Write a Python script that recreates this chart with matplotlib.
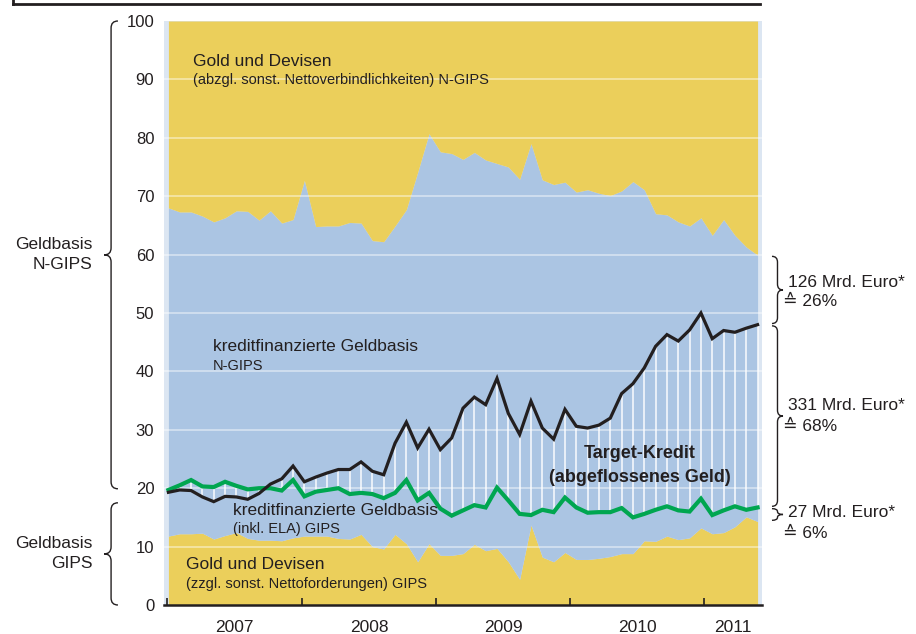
import numpy as np
import matplotlib
matplotlib.use('Agg')
import matplotlib.pyplot as plt
from matplotlib.path import Path
from matplotlib.patches import PathPatch
from matplotlib.lines import Line2D
from matplotlib.transforms import blended_transform_factory

plt.rcParams['font.family'] = ['Liberation Sans', 'DejaVu Sans']

# monthly values, Jan 2007 - May 2011 (share of monetary base, %)
top_ngips = [68.0, 67.3, 67.3, 66.6, 65.6, 66.3, 67.5, 67.4, 65.9, 67.5,
             65.4, 66.0, 72.7, 64.8, 64.9, 64.9, 65.5, 65.4, 62.4, 62.2,
             64.9, 67.7, 74.1, 80.7, 77.6, 77.3, 76.3, 77.5, 76.2, 75.6,
             75.0, 72.9, 79.0, 72.8, 72.0, 72.4, 70.7, 71.1, 70.5, 70.1,
             70.9, 72.5, 71.1, 67.0, 66.8, 65.6, 64.9, 66.3, 63.3, 66.0,
             63.3, 61.3, 59.9]
kredit_ngips = [19.3, 19.7, 19.6, 18.5, 17.7, 18.6, 18.5, 18.1, 19.1, 20.7,
                21.6, 23.8, 21.1, 21.9, 22.6, 23.2, 23.2, 24.5, 22.9, 22.3,
                27.7, 31.3, 26.9, 30.1, 26.6, 28.6, 33.7, 35.6, 34.3, 38.8,
                32.8, 29.2, 34.9, 30.3, 28.4, 33.5, 30.6, 30.3, 30.8, 32.0,
                36.2, 37.9, 40.6, 44.3, 46.3, 45.2, 47.1, 50.0, 45.6, 47.0,
                46.7, 47.4, 48.0]
kredit_gips = [19.7, 20.5, 21.4, 20.3, 20.2, 21.1, 20.4, 19.8, 20.0, 20.0,
               19.6, 21.4, 18.6, 19.4, 19.7, 20.0, 19.0, 19.2, 19.0, 18.3,
               19.2, 21.4, 17.9, 19.2, 16.5, 15.3, 16.2, 17.1, 16.7, 20.1,
               17.9, 15.6, 15.4, 16.3, 15.9, 18.4, 16.7, 15.8, 15.9, 15.9,
               16.6, 15.0, 15.6, 16.3, 16.9, 16.2, 16.0, 18.2, 15.4, 16.2,
               16.9, 16.3, 16.7]
gold_gips = [11.8, 12.2, 12.2, 12.3, 11.3, 11.9, 12.4, 11.4, 11.1, 11.1,
             11.0, 11.5, 11.8, 11.8, 11.8, 11.4, 11.3, 12.1, 10.0, 9.6,
             12.1, 10.5, 7.4, 10.5, 8.5, 8.5, 8.8, 10.4, 9.3, 9.7,
             7.4, 4.4, 13.7, 8.2, 7.4, 9.0, 7.8, 7.8, 8.0, 8.3,
             8.8, 8.8, 11.0, 10.9, 11.8, 11.2, 11.5, 13.2, 12.2, 12.4,
             13.4, 15.1, 14.3]
years = ['2007', '2008', '2009', '2010', '2011']
year_starts = [-0.1, 11.8, 23.6, 35.45, 47.3]
right_labels = [('126 Mrd. Euro*', '\u2259 26%'),
                ('331 Mrd. Euro*', '\u2259 68%'),
                ('27 Mrd. Euro*', '\u2259 6%')]

YELLOW = '#EBCF5B'
BLUE = '#ABC5E3'
DARK = '#231F20'
GREEN = '#00A650'

x = np.arange(len(top_ngips))
top = np.array(top_ngips)
blk = np.array(kredit_ngips)
grn = np.array(kredit_gips)
gold = np.array(gold_gips)


def brace(ax, x_end, x_tip, y0, y1, d=1.2, lw=1.0):
    # curly brace, x in axes fraction, y in data units
    trans = blended_transform_factory(ax.transAxes, ax.transData)
    s = np.sign(y1 - y0)
    d = min(d, abs(y1 - y0) / 4)
    xm = (x_end + x_tip) / 2
    ym = (y0 + y1) / 2
    verts = [(x_end, y0), (xm, y0), (xm, y0 + s * d),
             (xm, ym - s * d),
             (xm, ym), (x_tip, ym),
             (xm, ym), (xm, ym + s * d),
             (xm, y1 - s * d),
             (xm, y1), (x_end, y1)]
    codes = [Path.MOVETO, Path.CURVE3, Path.CURVE3, Path.LINETO,
             Path.CURVE3, Path.CURVE3, Path.CURVE3, Path.CURVE3,
             Path.LINETO, Path.CURVE3, Path.CURVE3]
    p = PathPatch(Path(verts, codes), fill=False, lw=lw, color=DARK,
                  transform=trans, clip_on=False)
    ax.add_patch(p)


fig = plt.figure(figsize=(9.16, 6.34), dpi=100)
ax = fig.add_axes([164 / 916, 29 / 634, 598 / 916, 584 / 634])
ax.set_facecolor('#DCE6F2')

ax.fill_between(x, 0, gold, color=YELLOW, lw=0, zorder=1)
ax.fill_between(x, gold, top, color=BLUE, lw=0, zorder=1)
ax.fill_between(x, top, 100, color=YELLOW, lw=0, zorder=1)

for yv in range(10, 100, 10):
    ax.axhline(yv, color='white', lw=1.2, alpha=0.5, zorder=2)

ax.vlines(x, np.minimum(grn, blk), np.maximum(grn, blk), colors='white',
          lw=1.3, alpha=0.8, zorder=2.5)
ax.plot(x, blk, color=DARK, lw=2.3, zorder=4, solid_joinstyle='miter')
ax.plot(x, grn, color=GREEN, lw=3.0, zorder=3, solid_joinstyle='miter')

ax.set_xlim(-0.39, 52.39)
ax.set_ylim(0, 100)
for side in ['left', 'right', 'top']:
    ax.spines[side].set_visible(False)
ax.spines['bottom'].set_linewidth(1.8)
ax.spines['bottom'].set_color(DARK)

ax.set_yticks(range(0, 101, 10))
ax.tick_params(axis='y', length=0, pad=7, labelsize=12, labelcolor=DARK)
ax.set_xticks(year_starts)
ax.set_xticklabels([])
ends = year_starts[1:] + [ax.get_xlim()[1]]
mids = [(a + b) / 2 for a, b in zip(year_starts, ends)]
ax.set_xticks(mids, minor=True)
ax.set_xticklabels(years, minor=True)
ax.tick_params(axis='x', which='major', direction='in', length=5,
               width=1.2, color=DARK)
ax.tick_params(axis='x', which='minor', length=0, pad=11, labelsize=12.5,
               labelcolor=DARK)

# area labels
ax.text(2.17, 93.0, 'Gold und Devisen', fontsize=12.5, color=DARK, va='center')
ax.text(2.17, 89.9, '(abzgl. sonst. Nettoverbindlichkeiten) N-GIPS',
        fontsize=10.5, color=DARK, va='center')
ax.text(3.94, 44.3, 'kreditfinanzierte Geldbasis', fontsize=12.5,
        color=DARK, va='center')
ax.text(3.94, 40.9, 'N-GIPS', fontsize=10.5, color=DARK, va='center')
ax.text(41.6, 26.0, 'Target-Kredit', fontsize=13, fontweight='bold',
        color=DARK, ha='center', va='center', zorder=5)
ax.text(41.6, 21.9, '(abgeflossenes Geld)', fontsize=13, fontweight='bold',
        color=DARK, ha='center', va='center', zorder=5)
ax.text(5.7, 16.1, 'kreditfinanzierte Geldbasis', fontsize=12.5,
        color=DARK, va='center', zorder=5)
ax.text(5.7, 13.0, '(inkl. ELA) GIPS', fontsize=10.5, color=DARK,
        va='center', zorder=5)
ax.text(1.55, 6.85, 'Gold und Devisen', fontsize=12.5, color=DARK,
        va='center', zorder=5)
ax.text(1.55, 3.6, '(zzgl. sonst. Nettoforderungen) GIPS', fontsize=10.5,
        color=DARK, va='center', zorder=5)

# left braces and labels
lt = blended_transform_factory(ax.transAxes, ax.transData)
brace(ax, -0.077, -0.100, 100, 19.9)
brace(ax, -0.077, -0.100, 17.5, 0)
ax.text(-0.119, 60, 'Geldbasis\nN-GIPS', transform=lt, ha='right',
        va='center', multialignment='right', fontsize=12.5, color=DARK,
        linespacing=1.4)
ax.text(-0.119, 8.75, 'Geldbasis\nGIPS', transform=lt, ha='right',
        va='center', multialignment='right', fontsize=12.5, color=DARK,
        linespacing=1.4)

# right braces and labels
spans = [(top[-1], blk[-1]), (blk[-1], grn[-1]), (grn[-1], gold[-1])]
label_y = [(55.3, 51.9), (34.1, 30.5), (15.9, 12.3)]
for (y0, y1), (l1, l2), (t1, t2) in zip(spans, right_labels, label_y):
    brace(ax, 1.0167, 1.0351, y0 - 0.2, y1 + 0.2, d=1.0)
    ax.text(1.0435, t1, l1, transform=lt, fontsize=12.5, color=DARK,
            va='center')
    ax.text(1.035, t2, l2, transform=lt, fontsize=12.5, color=DARK,
            va='center')

# frame line at the top
fig.add_artist(Line2D([13 / 916, 760 / 916], [1 - 3.5 / 634] * 2,
                      transform=fig.transFigure, color=DARK, lw=2))
fig.add_artist(Line2D([13 / 916, 13 / 916], [1, 1 - 3.5 / 634],
                      transform=fig.transFigure, color=DARK, lw=2))

fig.savefig('out.png', dpi=100)
